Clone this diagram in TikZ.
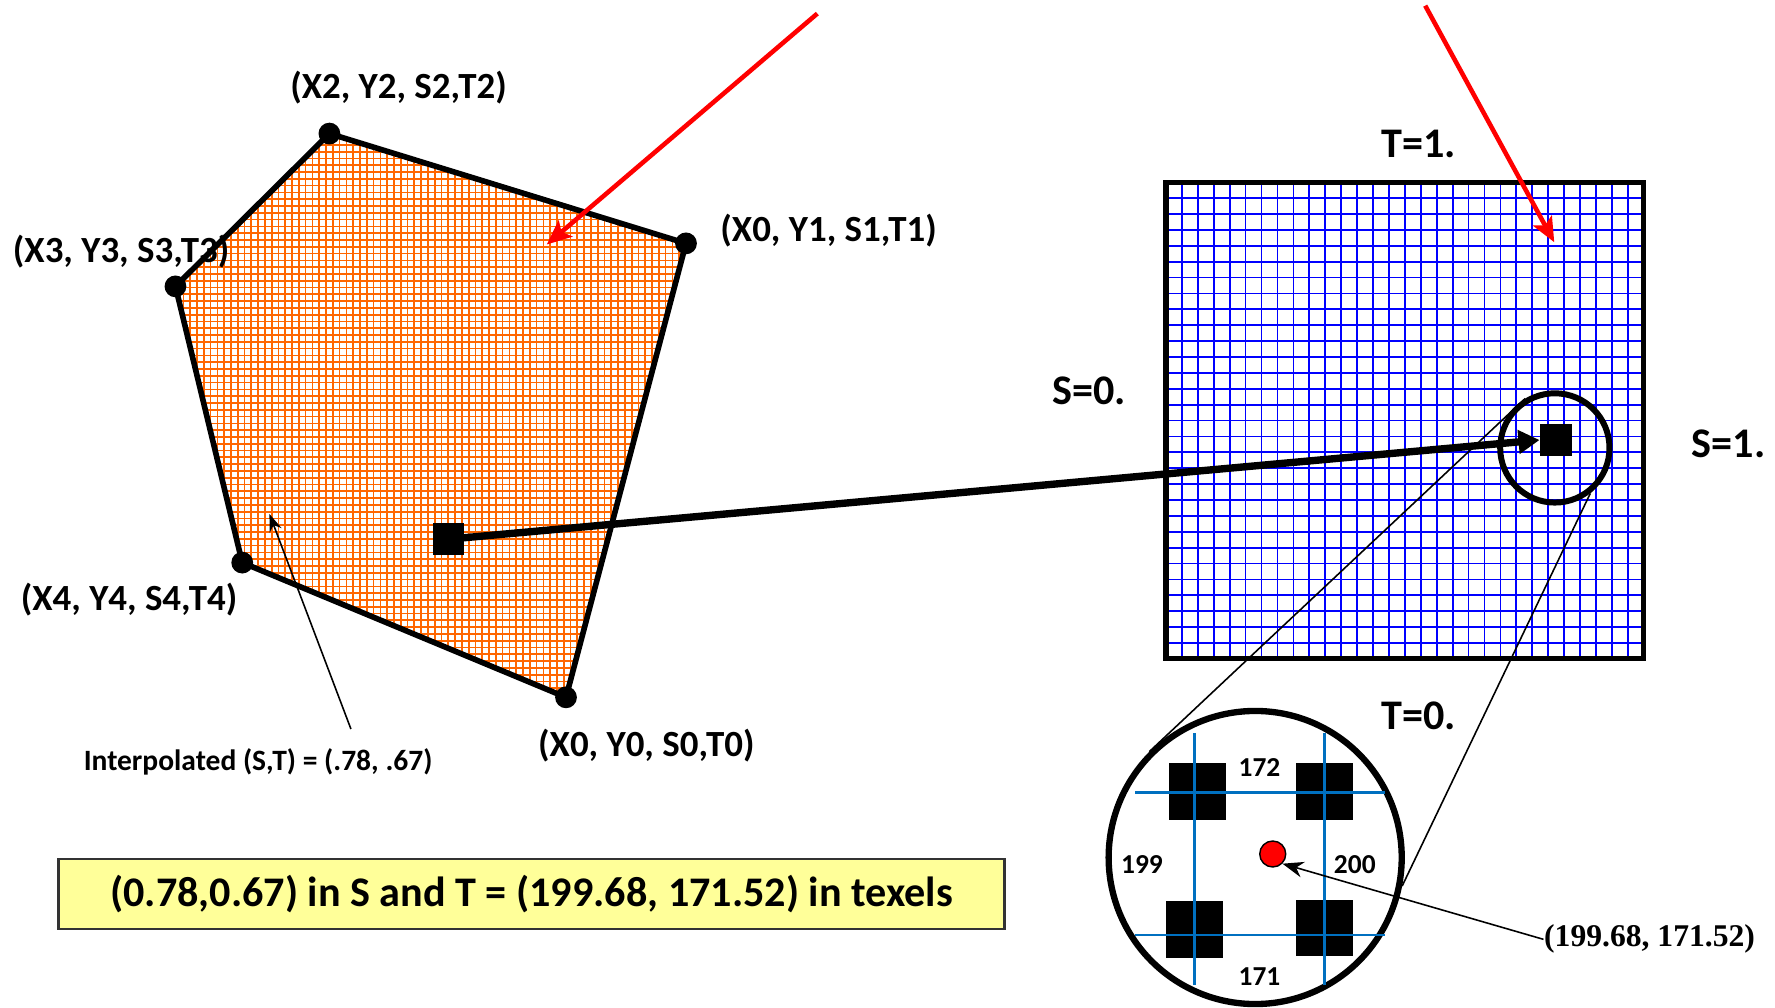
\documentclass[tikz,border=0pt]{standalone}
\usepackage{fontspec}
\setmainfont{Carlito}
\newfontfamily\serifnum{Liberation Serif}
\usetikzlibrary{arrows.meta}

\definecolor{gridorange}{RGB}{255,102,0}
\definecolor{texblue}{RGB}{0,0,255}
\definecolor{zoomblue}{RGB}{0,112,192}
\definecolor{notebg}{RGB}{255,255,153}
\definecolor{pointer}{RGB}{255,0,0}

\begin{document}
\begin{tikzpicture}[x=0.01132cm, y=-0.01132cm,
  vlabel/.style={font=\fontsize{10.5}{12}\selectfont\bfseries, inner sep=0pt},
  axlabel/.style={font=\fontsize{12}{14}\selectfont\bfseries, inner sep=0pt},
  numlabel/.style={font=\fontsize{7.8}{9}\selectfont\bfseries, inner sep=0pt},
  vertexdot/.style={circle, fill=black, minimum size=6.2pt, inner sep=0pt},
  sample/.style={rectangle, fill=black, minimum size=9pt, inner sep=0pt},
  texel/.style={rectangle, fill=black, minimum size=16.2pt, inner sep=0pt},
  edge/.style={line width=1.6pt, line join=round},
  redarrow/.style={pointer, line width=1.3pt, -{Stealth[length=7pt, width=6pt, inset=1.5pt]}},
  thinarrow/.style={black, line width=0.45pt, -{Stealth[length=5pt, width=3.6pt]}},
  zoomline/.style={zoomblue, line width=0.8pt}]

\useasboundingbox (0,0) rectangle (1568,890);

% ---------- polygon in screen space ----------
\coordinate (p0) at (500,616);
\coordinate (p1) at (606,215);
\coordinate (p2) at (291,118);
\coordinate (p3) at (155,253);
\coordinate (p4) at (214,497);

\begin{scope}
  \clip (p0) -- (p1) -- (p2) -- (p3) -- (p4) -- cycle;
  \fill[white] (140,100) rectangle (700,630);
  \foreach \x in {150,156,...,700}
    \draw[gridorange, line width=0.48pt] (\x,100) -- (\x,630);
  \foreach \y in {104,110,...,630}
    \draw[gridorange, line width=0.48pt] (140,\y) -- (700,\y);
\end{scope}

% vertex labels
\node[vlabel] (l2) at (352,77)  {(X2, Y2, S2,T2)};
\node[vlabel] (l1) at (732,204) {(X0, Y1, S1,T1)};
\node[vlabel] (l3) at (107,222) {(X3, Y3, S3,T3)};
\node[vlabel] (l4) at (114,530) {(X4, Y4, S4,T4)};
\node[vlabel] (l0) at (571,659) {(X0, Y0, S0,T0)};

\draw[edge] (p0) -- (p1) -- (p2) -- (p3) -- (p4) -- cycle;

\node[vertexdot] (v0) at (p0) {};
\node[vertexdot] (v1) at (p1) {};
\node[vertexdot] (v2) at (p2) {};
\node[vertexdot] (v3) at (p3) {};
\node[vertexdot] (v4) at (p4) {};

% ---------- texture map ----------
\fill[white] (1030,161) rectangle (1452,582);
\foreach \i in {1,...,29} {
  \draw[texblue, line width=0.5pt] ({1030+\i*14.0667},161) -- ({1030+\i*14.0667},582);
  \draw[texblue, line width=0.5pt] (1030,{161+\i*14.0333}) -- (1452,{161+\i*14.0333});
}
\draw[line width=1.5pt] (1030,161) rectangle (1452,582);

\node[axlabel] (t1) at (1253,127) {T=1.};
\node[axlabel] (t0) at (1253.5,632) {T=0.};
\node[axlabel] (s0) at (962,345)  {S=0.};
\node[axlabel] (s1) at (1527,392) {S=1.};

% sample points
\node[sample] (isq) at (396.2,476.3) {};
\node[sample] (tsq) at (1374.6,388.7) {};
\node[circle, draw, line width=1.7pt, minimum size=31.1pt, inner sep=0pt] (sc) at (1373.5,395.7) {};

\draw[line width=2.1pt, -{Triangle[length=6pt, width=6.5pt]}] (isq.center) -- (tsq.west);

% ---------- magnified neighbourhood ----------
\node[circle, draw, line width=1.8pt, minimum size=83.4pt, inner sep=0pt] (zc) at (1108.8,757.5) {};

\draw[line width=0.45pt] (sc.121) -- (zc.135);
\draw[line width=0.45pt] (sc.-52) -- (zc.-11);

\node[texel] (q1) at (1057.9,699.1) {};
\node[texel] (q2) at (1169.9,699.1) {};
\node[texel] (q3) at (1054.9,820.9) {};
\node[texel] (q4) at (1169.9,819.8) {};

\draw[zoomline] (1055.1,647.8) -- (1055.1,870);
\draw[zoomline] (1170.2,647.8) -- (1170.2,870);
\draw[zoomline] (1003,700.2) -- (1223.5,700.2);
\draw[zoomline] (1003,826) -- (1223.5,826);

\node[numlabel] (n172) at (1112.6,677.8) {172};
\node[numlabel] (n199) at (1008.8,764) {199};
\node[numlabel] (n200) at (1196.8,764) {200};
\node[numlabel] (n171) at (1112.6,862.8) {171};

\node[circle, fill=red, draw=black, line width=0.4pt, minimum size=7.4pt, inner sep=0pt] (rd) at (1124.3,754.4) {};

\node[font=\serifnum\bfseries\fontsize{9}{11}\selectfont, inner sep=0pt] (texc) at (1457.2,829.8) {(199.68, 171.52)};
\draw[thinarrow, -{Stealth[length=6pt, width=4.5pt]}] (texc.west) -- (rd.south east);

% ---------- interpolation note ----------
\node[font=\fontsize{8.4}{10}\selectfont\bfseries, inner sep=0pt] (ilab) at (228,673) {Interpolated (S,T) = (.78, .67)};
\coordinate (itail) at (310,644);
\coordinate (ihead) at (238,454);
\draw[thinarrow] (itail) -- (ihead);

% ---------- red pointers ----------
\coordinate (r1s) at (722,12);
\coordinate (r1e) at (483,216);
\coordinate (r2s) at (1259,5);
\coordinate (r2e) at (1373,214);
\draw[redarrow] (r1s) -- (r1e);
\draw[redarrow] (r2s) -- (r2e);

% ---------- summary box ----------
\node[draw=black!80, line width=0.6pt, fill=notebg, minimum width=269.2pt, minimum height=19.9pt,
      inner sep=0pt, font=\fontsize{12}{14}\selectfont\bfseries] (note) at (469.5,790)
      {(0.78,0.67) in S and T = (199.68, 171.52) in texels};

\end{tikzpicture}
\end{document}
